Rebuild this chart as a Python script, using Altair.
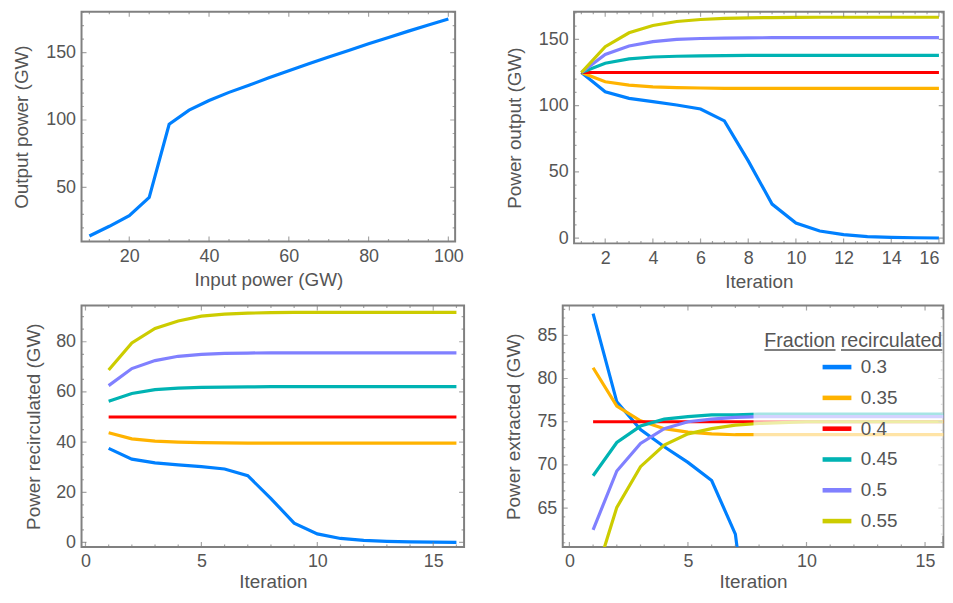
import altair as alt
import pandas as pd

# ---------------- data ----------------
input_power = [10, 15, 20, 25, 30, 35, 40, 45, 50, 55, 60, 65, 70, 75, 80, 85, 90, 95, 100]
output_power = [14, 21.2, 29.1, 42.6, 96.8, 107.3, 114.5, 120.5, 125.8, 131.3, 136.6,
                141.7, 146.7, 151.6, 156.5, 161.2, 165.9, 170.4, 174.9]

iterations = list(range(1, 17))
fractions = ["0.3", "0.35", "0.4", "0.45", "0.5", "0.55"]
colors = ["#0080FF", "#FFB300", "#FF0000", "#00B3B3", "#8080FF", "#CCCC00"]

out_03 = [125, 110.5, 105.5, 103, 100.5, 97.5, 88.5, 58.3, 25.7, 11.4, 5.4, 2.6, 1.2, 0.6, 0.3, 0.1]
out_035 = [125, 118, 115.5, 114.2, 113.6, 113.3, 113.1, 113, 113, 113, 113, 113, 113, 113, 113, 113]
out_04 = [125] * 16
out_045 = [125, 132, 135.3, 136.7, 137.3, 137.6, 137.8, 137.9, 138, 138, 138, 138, 138, 138, 138, 138]
out_05 = [125, 138.7, 145, 148.3, 150, 150.7, 151, 151.2, 151.3, 151.3, 151.3, 151.3, 151.3, 151.3, 151.3, 151.3]
out_055 = [125, 144.5, 155, 160.5, 163.5, 165, 165.9, 166.3, 166.5, 166.6, 166.7, 166.7, 166.7, 166.7, 166.7, 166.7]

rec_03 = [37.5, 33.2, 31.7, 30.9, 30.2, 29.3, 26.6, 17.5, 7.7, 3.4, 1.6, 0.8, 0.4, 0.2, 0.1, 0.05]
rec_035 = [43.75, 41.3, 40.4, 40, 39.8, 39.7, 39.6, 39.6, 39.6, 39.6, 39.6, 39.6, 39.6, 39.6, 39.6, 39.6]
rec_04 = [50] * 16
rec_045 = [56.25, 59.4, 60.9, 61.5, 61.8, 61.9, 62, 62.1, 62.1, 62.1, 62.1, 62.1, 62.1, 62.1, 62.1, 62.1]
rec_05 = [62.5, 69.3, 72.5, 74.2, 75, 75.4, 75.5, 75.6, 75.6, 75.6, 75.6, 75.6, 75.6, 75.6, 75.6, 75.6]
rec_055 = [68.75, 79.5, 85.3, 88.3, 90.2, 91, 91.4, 91.6, 91.7, 91.7, 91.7, 91.7, 91.7, 91.7, 91.7, 91.7]

ext_03 = [87.5, 77.3, 74.1, 72.1, 70.3, 68.2, 62, 40.8, 18, 8, 3.9, 1.8, 0.85, 0.4, 0.2, 0.1]
ext_035 = [81.25, 76.8, 75.1, 74.2, 73.8, 73.6, 73.5, 73.5, 73.5, 73.5, 73.5, 73.5, 73.5, 73.5, 73.5, 73.5]
ext_04 = [75] * 16
ext_045 = [68.75, 72.6, 74.5, 75.3, 75.6, 75.8, 75.8, 75.9, 75.9, 75.9, 75.9, 75.9, 75.9, 75.9, 75.9, 75.9]
ext_05 = [62.5, 69.3, 72.5, 74.2, 75, 75.3, 75.5, 75.6, 75.6, 75.6, 75.6, 75.6, 75.6, 75.6, 75.6, 75.6]
ext_055 = [56.25, 65.1, 69.8, 72.3, 73.6, 74.2, 74.6, 74.8, 74.9, 75, 75, 75, 75, 75, 75, 75]

legend_title = "Fraction recirculated"

# ---------------- styling ----------------
FONT = "Liberation Sans"
TXT = "#555555"
FRAME = "#808080"
LW = 3.2
MAJ, MIN = 5, 2.5


def long_df(series):
    rows = []
    for f, vals in zip(fractions, series):
        for it, v in zip(iterations, vals):
            rows.append({"it": it, "val": v, "frac": f})
    return pd.DataFrame(rows)


def tick_layers(xscale, yscale, xax, yax, W, H, xmaj, xmin, ymaj, ymin):
    layers = []
    for vals, s in ((xmaj, MAJ), (xmin, MIN)):
        d = pd.DataFrame({"it": vals})
        for yv in (s / 2, H - s / 2):
            layers.append(
                alt.Chart(d).mark_tick(clip=True, color=FRAME, thickness=1.2).encode(
                    x=alt.X("it:Q", scale=xscale, axis=xax),
                    y=alt.value(yv), size=alt.value(s)))
    for vals, s in ((ymaj, MAJ), (ymin, MIN)):
        d = pd.DataFrame({"val": vals})
        for xv in (s / 2, W - s / 2):
            layers.append(
                alt.Chart(d).mark_tick(clip=True, color=FRAME, thickness=1.2).encode(
                    y=alt.Y("val:Q", scale=yscale, axis=yax),
                    x=alt.value(xv), size=alt.value(s)))
    return layers


def xaxis(values, title, lp, tp, flush=False):
    kw = dict(values=values, title=title, ticks=False, domain=False, grid=False,
              labelPadding=lp, titlePadding=tp)
    if flush:
        kw["labelFlush"] = 8
    return alt.Axis(**kw)


def yaxis(values, title, tp):
    return alt.Axis(values=values, title=title, ticks=False, domain=False, grid=False,
                    labelPadding=6, titlePadding=tp)


color_scale = alt.Scale(domain=fractions, range=colors)

# ---------------- panel 1 ----------------
W1, H1 = 376, 231
xs1 = alt.Scale(domain=[8.03, 101.7], nice=False, zero=False)
ys1 = alt.Scale(domain=[10.0, 180.2], nice=False, zero=False)
xa1 = xaxis([20, 40, 60, 80, 100], "Input power (GW)", 6.5, 4.5)
ya1 = yaxis([50, 100, 150], "Output power (GW)", 14)
df1 = pd.DataFrame({"it": input_power, "val": output_power})
line1 = alt.Chart(df1).mark_line(clip=True, strokeWidth=LW, color=colors[0]).encode(
    x=alt.X("it:Q", scale=xs1, axis=xa1),
    y=alt.Y("val:Q", scale=ys1, axis=ya1),
)
p1 = alt.layer(
    line1,
    *tick_layers(xs1, ys1, xa1, ya1, W1, H1, [20, 40, 60, 80, 100],
                 [v for v in range(10, 101, 5) if v % 20], [50, 100, 150],
                 [v for v in range(20, 181, 10) if v % 50]),
).properties(width=W1, height=H1)

# ---------------- panel 2 ----------------
W2, H2 = 372, 233
xs2 = alt.Scale(domain=[0.694, 16.2], nice=False, zero=False)
ys2 = alt.Scale(domain=[-3.95, 170.8], nice=False, zero=False)
xa2 = xaxis(list(range(2, 17, 2)), "Iteration", 6.5, 4.5, flush=True)
ya2 = yaxis([0, 50, 100, 150], "Power output (GW)", 14)
df2 = long_df([out_03, out_035, out_04, out_045, out_05, out_055])
line2 = alt.Chart(df2).mark_line(clip=True, strokeWidth=LW).encode(
    x=alt.X("it:Q", scale=xs2, axis=xa2),
    y=alt.Y("val:Q", scale=ys2, axis=ya2),
    color=alt.Color("frac:N", scale=color_scale, legend=None),
)
p2 = alt.layer(
    line2,
    *tick_layers(xs2, ys2, xa2, ya2, W2, H2, list(range(2, 17, 2)),
                 [v / 2 for v in range(2, 33) if v % 4], [0, 50, 100, 150],
                 [v for v in range(0, 171, 10) if v % 50]),
).properties(width=W2, height=H2)

# ---------------- panel 3 ----------------
W3, H3 = 385, 243
xs3 = alt.Scale(domain=[-0.17, 16.33], nice=False, zero=False)
ys3 = alt.Scale(domain=[-1.78, 94.46], nice=False, zero=False)
xa3 = xaxis([0, 5, 10, 15], "Iteration", 5.5, 2)
ya3 = yaxis([0, 20, 40, 60, 80], "Power recirculated (GW)", 12.3)
df3 = long_df([rec_03, rec_035, rec_04, rec_045, rec_05, rec_055])
line3 = alt.Chart(df3).mark_line(clip=True, strokeWidth=LW).encode(
    x=alt.X("it:Q", scale=xs3, axis=xa3),
    y=alt.Y("val:Q", scale=ys3, axis=ya3),
    color=alt.Color("frac:N", scale=color_scale, legend=None),
)
p3 = alt.layer(
    line3,
    *tick_layers(xs3, ys3, xa3, ya3, W3, H3, [0, 5, 10, 15], [v for v in range(0, 17) if v % 5],
                 [0, 20, 40, 60, 80], [v for v in range(0, 95, 5) if v % 20]),
).properties(width=W3, height=H3)

# ---------------- panel 4 ----------------
W4, H4 = 383, 243
xs4 = alt.Scale(domain=[-0.28, 15.77], nice=False, zero=False)
ys4 = alt.Scale(domain=[60.52, 88.45], nice=False, zero=False)
xa4 = xaxis([0, 5, 10, 15], "Iteration", 5.5, 2)
ya4 = yaxis([65, 70, 75, 80, 85], "Power extracted (GW)", 14)
df4 = long_df([ext_03, ext_035, ext_04, ext_045, ext_05, ext_055])
line4 = alt.Chart(df4).mark_line(clip=True, strokeWidth=LW).encode(
    x=alt.X("it:Q", scale=xs4, axis=xa4),
    y=alt.Y("val:Q", scale=ys4, axis=ya4),
    color=alt.Color(
        "frac:N", scale=color_scale,
        legend=alt.Legend(orient="none", legendX=259, legendY=45, title=None,
                          symbolType="stroke", symbolSize=841, symbolStrokeWidth=4.6,
                          labelFontSize=19, labelColor=TXT, labelFont=FONT,
                          labelOffset=7, rowPadding=4.0, padding=0),
    ),
)
one = pd.DataFrame({"a": [0]})
veil = alt.Chart(one).mark_rect(color="white", opacity=0.65).encode(
    x=alt.value(192), x2=alt.value(W4), y=alt.value(14), y2=alt.value(232))
ltitle = alt.Chart(one).mark_text(align="right", baseline="alphabetic", fontSize=19.8,
                                  font=FONT, color=TXT).encode(
    x=alt.value(382), y=alt.value(42.2), text=alt.value(legend_title))
ul1 = alt.Chart(one).mark_rule(color=TXT, strokeWidth=1.5).encode(
    x=alt.value(203), x2=alt.value(274.5), y=alt.value(44.8))
ul2 = alt.Chart(one).mark_rule(color=TXT, strokeWidth=1.5).encode(
    x=alt.value(280), x2=alt.value(382), y=alt.value(44.8))
p4 = alt.layer(
    line4,
    *tick_layers(xs4, ys4, xa4, ya4, W4, H4, [0, 5, 10, 15], [v for v in range(0, 16) if v % 5],
                 [65, 70, 75, 80, 85], [v for v in range(61, 89) if v % 5]),
    veil, ltitle, ul1, ul2,
).properties(width=W4, height=H4)

row1 = alt.hconcat(p1, p2, spacing=38.7).resolve_scale(color="independent")
row2 = alt.hconcat(p3, p4, spacing=37.3).resolve_scale(color="independent")
chart = alt.vconcat(row1, row2, spacing=12.5).resolve_scale(color="independent").properties(
    padding={"left": 3, "top": 1, "right": 0, "bottom": 0}
).configure(font=FONT).configure_view(stroke=FRAME, strokeWidth=2).configure_axis(
    labelFont=FONT, titleFont=FONT, labelFontSize=18, titleFontSize=19,
    labelColor=TXT, titleColor=TXT, titleFontWeight="normal",
)

chart.save("out.html", embed_options={"renderer": "svg", "actions": False})
